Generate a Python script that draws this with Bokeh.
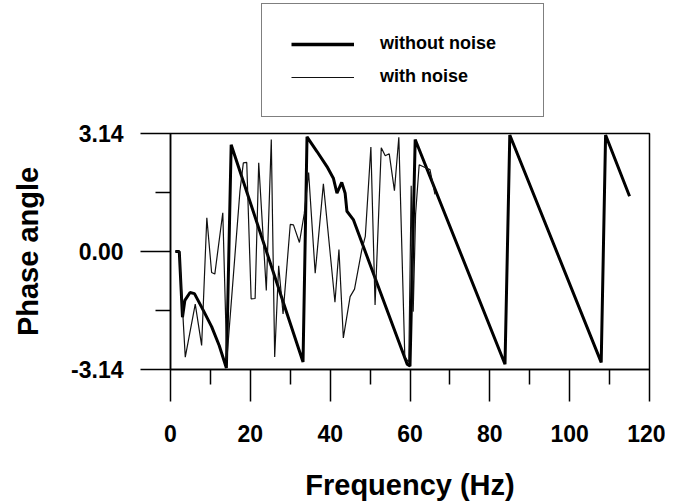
from bokeh.plotting import figure
from bokeh.layouts import column
from bokeh.models import Range1d, FixedTicker, NumeralTickFormatter, Legend, LegendItem
from bokeh.embed import file_html
from bokeh.resources import INLINE

# ---- data ----
freq_clean = [1.2, 2.2, 3.0, 3.6, 4.9, 6.0, 7.8, 10.3, 12.2, 14.0, 15.2, 33.2, 34.2, 36.7,
              39.2, 40.8, 41.7, 42.9, 43.75, 44.2, 45.8, 59.3, 60.0, 61.3, 83.8, 85.0,
              107.9, 109.0, 115.0]
phase_clean = [0.0, 0.0, -1.75, -1.3, -1.09, -1.12, -1.48, -2.0, -2.5, -3.1, 2.84, -2.94, 3.05, 2.66,
               2.26, 1.95, 1.55, 1.84, 1.55, 1.07, 0.85, -3.0, -3.05, 2.98, -3.0, 3.1,
               -2.95, 3.1, 1.47]

freq_noisy = [1.2, 2.2, 3.7, 6.2, 7.8, 9.1, 10.3, 11.1, 13.1, 14.1, 17.4, 18.25, 19.1, 20.2,
              21.2, 22.1, 24.0, 25.25, 26.1, 27.1, 28.2, 30.0, 30.8, 32.3, 33.5, 34.6,
              36.25, 38.3, 41.2, 42.2, 43.3, 45.0, 46.1, 47.9, 48.8, 50.2, 51.25, 52.8,
              53.8, 54.8, 56.1, 57.2, 58.7, 59.7, 60.3, 60.8, 61.4, 62.3, 63.5, 65.0, 66.25]
phase_noisy = [0.0, 0.0, -2.81, -1.40, -2.5, 0.9, -0.56, -0.6, 1.03, -2.89, 1.61, 2.36, 2.37, -1.26,
               -1.25, 2.36, -1.04, 2.98, -2.81, -0.38, -1.66, 0.72, 0.71, 0.24, 1.0, 2.1,
               -0.58, 1.8, -1.35, 0.05, -2.3, -1.2, -1.0, 0.03, 0.4, 2.78, -1.42, 2.76,
               2.55, 2.6, 1.62, 3.04, -2.8, -2.95, 1.75, -1.6, 1.0, 2.31, 2.25, 2.18, 1.52]

x_ticks = [0, 20, 40, 60, 80, 100, 120]
x_minor = [10, 30, 50, 70, 90, 110]
y_ticks = [-3.14, 0.0, 3.14]
y_minor = [-1.57, 1.57]
series_names = ["without noise", "with noise"]

FONT = "Liberation Sans"
W = 665
TOP_H = 118
TOTAL_H = 503

# ---- legend strip (separate figure above the plot so the legend is not clipped) ----
top = figure(width=W, height=TOP_H, output_backend="svg", toolbar_location=None,
             min_border_left=170, min_border_right=16, min_border_top=0, min_border_bottom=0,
             x_range=Range1d(1000, 1001), y_range=Range1d(1000, 1001))
top.axis.visible = False
top.grid.visible = False
top.outline_line_color = None
top.background_fill_color = "white"
top.border_fill_color = "white"
# hidden copies of the two series, only used to draw the legend samples
d1 = top.line(freq_clean, phase_clean, line_width=3.5, color="black", visible=False)
d2 = top.line(freq_noisy, phase_noisy, line_width=1.2, color="#111111", visible=False)
legend = Legend(items=[LegendItem(label=series_names[0], renderers=[d1]),
                       LegendItem(label=series_names[1], renderers=[d2])],
                location=(91, 1), orientation="vertical", padding=29, margin=0,
                spacing=12, glyph_width=63, glyph_height=20, label_height=20,
                label_standoff=26, label_width=134,
                label_text_font=FONT, label_text_font_style="bold",
                label_text_font_size="18px", label_text_color="black",
                border_line_color="black", border_line_width=1.5,
                background_fill_color="white", background_fill_alpha=1.0,
                inactive_fill_alpha=0.0)
top.add_layout(legend)

# ---- main plot ----
p = figure(width=W, height=TOTAL_H - TOP_H, output_backend="svg", toolbar_location=None,
           x_range=Range1d(0, 120), y_range=Range1d(-3.14, 3.14),
           min_border_left=170, min_border_right=16, min_border_top=133 - TOP_H,
           min_border_bottom=133)
p.xgrid.visible = False
p.ygrid.visible = False
p.outline_line_color = "black"
p.outline_line_width = 1.5
p.background_fill_color = "white"
p.border_fill_color = "white"

r1 = p.line(freq_clean, phase_clean, line_width=3, color="black")
r2 = p.line(freq_noisy, phase_noisy, line_width=1.2, color="#111111")

for ax in (p.xaxis[0], p.yaxis[0]):
    ax.axis_line_color = "black"
    ax.axis_line_width = 1.5
    ax.major_tick_line_color = "black"
    ax.major_tick_line_width = 1.5
    ax.minor_tick_line_color = "black"
    ax.minor_tick_line_width = 1.5
    ax.major_tick_in = 0
    ax.minor_tick_in = 0
    ax.minor_tick_out = 15
    ax.major_label_text_font = FONT
    ax.major_label_text_font_style = "bold"
    ax.major_label_text_font_size = "23px"
    ax.major_label_text_color = "black"
    ax.axis_label_text_font = FONT
    ax.axis_label_text_font_style = "bold"
    ax.axis_label_text_font_size = "29px"
    ax.axis_label_text_color = "black"

p.xaxis.ticker = FixedTicker(ticks=x_ticks, minor_ticks=x_minor)
p.xaxis.major_tick_out = 32
p.xaxis.major_label_standoff = 23
p.xaxis.axis_label = "Frequency (Hz)"
p.xaxis.axis_label_standoff = 24

p.yaxis.ticker = FixedTicker(ticks=y_ticks, minor_ticks=y_minor)
p.yaxis.formatter = NumeralTickFormatter(format="0.00")
p.yaxis.major_tick_out = 30
p.yaxis.major_label_standoff = 17
p.yaxis.axis_label = "Phase angle"
p.yaxis.axis_label_standoff = 24

layout = column(top, p, spacing=0)
open("out.html", "w").write(file_html(layout, INLINE))
